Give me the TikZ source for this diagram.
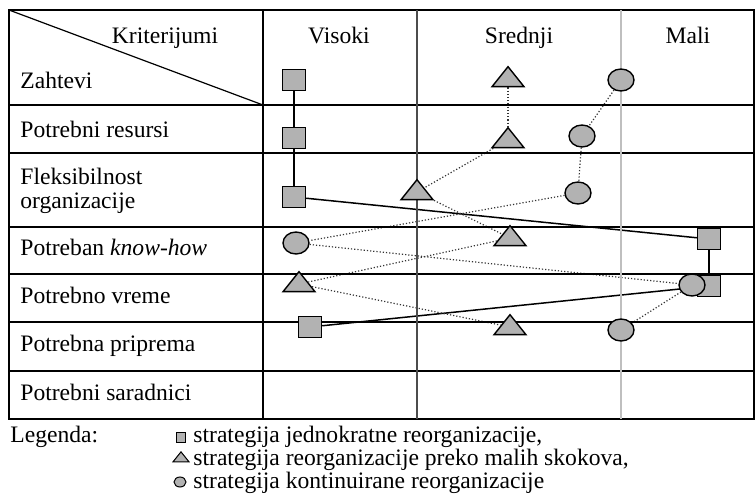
\documentclass[tikz,border=0pt]{standalone}
\usepackage{fontspec}
\setmainfont{Liberation Serif}
\usetikzlibrary{shapes.geometric, backgrounds}

\begin{document}
\begin{tikzpicture}[x=0.5pt, y=-0.5pt, font=\fontsize{11.8}{14}\selectfont]
    % Setup the styles for the marks and the texts
        \tikzset{square style/.style={rectangle, draw, line width=0.7pt,
                                      fill=black!30,
                                      minimum width=11.5pt, minimum height=10.5pt,
                                      inner sep=0pt},
                 triangle style/.style={isosceles triangle, shape border rotate=90,
                                        isosceles triangle stretches,
                                        draw, line width=0.7pt, fill=black!30,
                                        minimum width=16pt, minimum height=10pt,
                                        inner sep=0pt},
                 circle style/.style={ellipse, draw, line width=0.7pt,
                                      fill=black!30,
                                      minimum width=13pt, minimum height=11pt,
                                      inner sep=0pt},
                 row style/.style={anchor=base west, inner sep=0pt},
                 head style/.style={anchor=base, inner sep=0pt}}

        \useasboundingbox (0,0) rectangle (755,498);

        % Draw the table
        \draw[line width=0.6pt] (9,10) rectangle (754,419);
        \foreach \y in {105,153,227,274,322,371}
            \draw[line width=0.6pt] (9,\y) -- (754,\y);
        \draw[line width=0.6pt] (263,10) -- (263,419);
        \draw[line width=0.6pt, gray!60!black] (417,10) -- (417,419);
        \draw[line width=0.6pt, gray!50] (621,10) -- (621,419);
        \draw[line width=0.6pt] (9,10) -- (263,105);

        % Column and row texts
        \node[head style] (krit)   at (165,43) {Kriterijumi};
        \node[head style] (visoki) at (339,43) {Visoki};
        \node[head style] (srednji) at (519,43) {Srednji};
        \node[head style] (mali)   at (688,43) {Mali};
        \node[row style] (zahtevi)   at (20,88)  {Zahtevi};
        \node[row style] (resursi)   at (20,137) {Potrebni resursi};
        \node[row style] (fleks)     at (20,184) {Fleksibilnost};
        \node[row style] (organiz)   at (20,208) {organizacije};
        \node[row style] (knowhow)   at (20,255) {Potreban \textit{know-how}};
        \node[row style] (vreme)     at (20,303) {Potrebno vreme};
        \node[row style] (priprema)  at (20,351) {Potrebna priprema};
        \node[row style] (saradnici) at (20,400) {Potrebni saradnici};

        % Draw the marks
        \node[square style] (sq1) at (294,80)  {};
        \node[square style] (sq2) at (294,138) {};
        \node[square style] (sq3) at (294,197) {};
        \node[square style] (sq4) at (709,239) {};
        \node[square style] (sq5) at (709,286) {};
        \node[square style] (sq6) at (310,327) {};
        \node[triangle style] (tr1) at (508,79)  {};
        \node[triangle style] (tr2) at (508,140) {};
        \node[triangle style] (tr3) at (417,192) {};
        \node[triangle style] (tr4) at (510,238) {};
        \node[triangle style] (tr5) at (299,284) {};
        \node[triangle style] (tr6) at (510,327) {};
        \node[circle style] (ci1) at (621,80)  {};
        \node[circle style] (ci2) at (582,136) {};
        \node[circle style] (ci3) at (578,193) {};
        \node[circle style] (ci4) at (296,243) {};
        \node[circle style] (ci5) at (692,285) {};
        \node[circle style] (ci6) at (621,330) {};

        % Connect the marks
        \begin{scope}[on background layer]
        \draw[line width=0.75pt]
            (sq1) edge (sq2)
            (sq2) edge (sq3)
            (sq3) edge (sq4)
            (sq4) edge (sq5)
            (sq6) edge (sq5);
        \draw[densely dotted, line width=0.6pt, black!80]
            (tr1) edge (tr2)
            (tr2) edge (tr3)
            (tr3) edge (tr4)
            (tr4) edge (tr5)
            (tr5) edge (tr6)
            (ci1) edge (ci2)
            (ci2) edge (ci3)
            (ci3) edge (ci4)
            (ci4) edge (ci5)
            (ci5) edge (ci6);
        \end{scope}

        % Legend
        \node[row style] (legenda) at (10,442) {Legenda:};
        \node[square style, minimum width=4.75pt, minimum height=4.75pt,
              line width=0.5pt] (lsq) at (181,437.5) {};
        \node[triangle style, minimum width=8pt, minimum height=5pt,
              line width=0.5pt] (ltr) at (181,458) {};
        \node[circle style, minimum width=6pt, minimum height=5pt,
              line width=0.5pt] (lci) at (180,482) {};
        \node[row style] (lsqtext) at (193,442) {strategija jednokratne reorganizacije,};
        \node[row style] (ltrtext) at (193,465) {strategija reorganizacije preko malih skokova,};
        \node[row style] (lcitext) at (193,488) {strategija kontinuirane reorganizacije};
\end{tikzpicture}
\end{document}
